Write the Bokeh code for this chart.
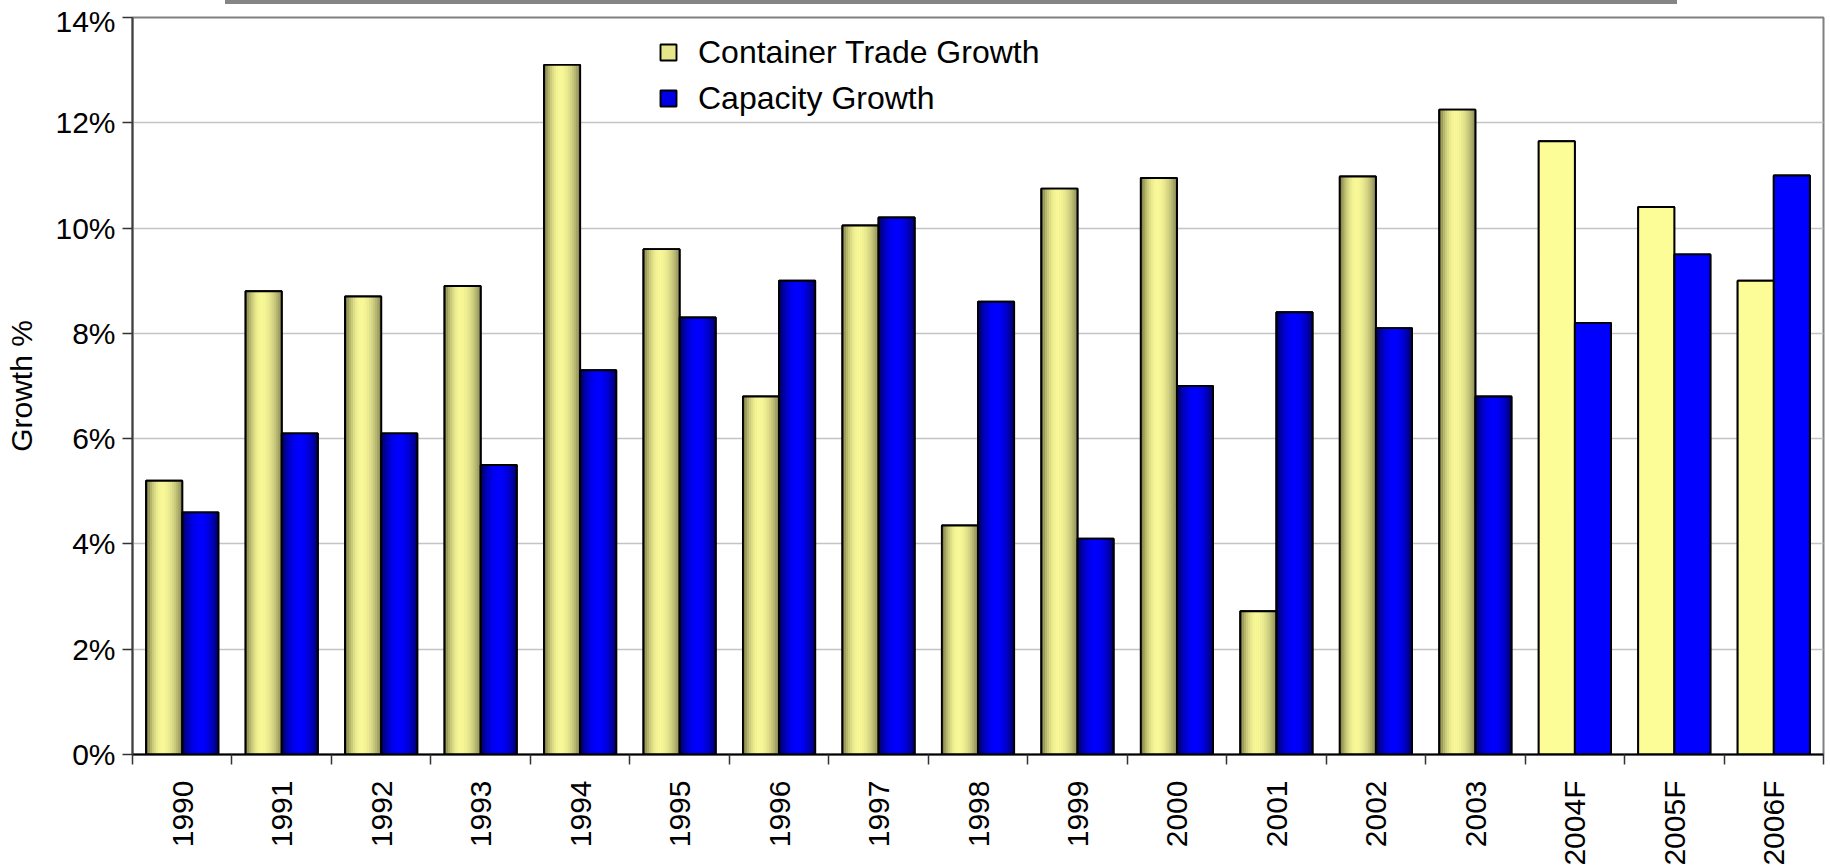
import math
import numpy as np
from bokeh.plotting import figure
from bokeh.models import (ColumnDataSource, Range1d, FixedTicker, Legend, LegendItem, Div, Spacer)
from bokeh.layouts import column, row
from bokeh.embed import file_html
from bokeh.resources import INLINE

# ---------------- data ----------------
years = ["1990", "1991", "1992", "1993", "1994", "1995", "1996", "1997", "1998",
         "1999", "2000", "2001", "2002", "2003", "2004F", "2005F", "2006F"]
trade_growth = [5.2, 8.8, 8.7, 8.9, 13.1, 9.6, 6.8, 10.05, 4.35,
                10.75, 10.95, 2.72, 10.98, 12.25, 11.65, 10.4, 9.0]
capacity_growth = [4.6, 6.1, 6.1, 5.5, 7.3, 8.3, 9.0, 10.2, 8.6,
                   4.1, 7.0, 8.4, 8.1, 6.8, 8.2, 9.5, 11.0]
series_names = ["Container Trade Growth", "Capacity Growth"]
y_ticks = [0, 2, 4, 6, 8, 10, 12, 14]
y_tick_labels = ["0%", "2%", "4%", "6%", "8%", "10%", "12%", "14%"]
y_axis_title = "Growth %"

forecast = [y.endswith("F") for y in years]
idx = np.arange(len(years), dtype=float)

FONT = "Liberation Sans"
BAR_W = 0.363
N_STRIPS = 18
OUTLINE_W = 1.9


def hexc(c):
    return "#%02x%02x%02x" % tuple(int(round(v)) for v in c)


def ramp(dark_l, light, dark_r, peak):
    cols = []
    for k in range(N_STRIPS):
        t = (k + 0.5) / N_STRIPS
        if t < peak:
            u = t / peak
            dark = dark_l
        else:
            u = (1 - t) / (1 - peak)
            dark = dark_r
        s = 1 - (1 - u) ** 2
        cols.append(hexc([d + (l - d) * s for d, l in zip(dark, light)]))
    return cols


yellow_ramp = ramp((0x6c, 0x6c, 0x3c), (0xf8, 0xf8, 0x98), (0x84, 0x84, 0x54), 0.45)
blue_ramp = ramp((0x00, 0x00, 0x50), (0x00, 0x00, 0xff), (0x00, 0x00, 0x60), 0.5)

# gradient strips (historical bars)
sx, stop, scol = [], [], []
for i in range(len(years)):
    if forecast[i]:
        continue
    for off, vals, cols in ((-BAR_W / 2, trade_growth, yellow_ramp),
                            (BAR_W / 2, capacity_growth, blue_ramp)):
        for k in range(N_STRIPS):
            sx.append(idx[i] + off - BAR_W / 2 + (k + 0.5) * BAR_W / N_STRIPS)
            stop.append(vals[i])
            scol.append(cols[k])
strip_src = ColumnDataSource(dict(x=sx, top=stop, color=scol))

fc_idx = [i for i in range(len(years)) if forecast[i]]
fc_trade_src = ColumnDataSource(dict(x=[idx[i] - BAR_W / 2 for i in fc_idx],
                                     top=[trade_growth[i] for i in fc_idx]))
fc_cap_src = ColumnDataSource(dict(x=[idx[i] + BAR_W / 2 for i in fc_idx],
                                   top=[capacity_growth[i] for i in fc_idx]))
all_trade_src = ColumnDataSource(dict(x=idx - BAR_W / 2, top=trade_growth))
all_cap_src = ColumnDataSource(dict(x=idx + BAR_W / 2, top=capacity_growth))

# ---------------- figure ----------------
p = figure(width=1830, height=864, output_backend="svg", toolbar_location=None,
           x_range=Range1d(-0.5, len(years) - 0.5), y_range=Range1d(0, 14),
           min_border_left=132, min_border_right=7, min_border_top=13,
           min_border_bottom=106)
p.background_fill_color = "white"
p.border_fill_color = "white"
p.outline_line_color = "#808080"
p.outline_line_width = 2

# base bars (also used as legend glyphs)
base_t = p.vbar(x="x", top="top", width=BAR_W, bottom=0, source=all_trade_src,
                fill_color="#e6e68a", line_color="black", line_width=OUTLINE_W)
base_c = p.vbar(x="x", top="top", width=BAR_W, bottom=0, source=all_cap_src,
                fill_color="#0000e8", line_color="black", line_width=OUTLINE_W)

p.vbar(x="x", top="top", width=BAR_W / N_STRIPS * 1.12, bottom=0, source=strip_src,
       fill_color="color", line_color=None)
p.vbar(x="x", top="top", width=BAR_W, bottom=0, source=fc_trade_src,
       fill_color="#fdfd98", line_color=None)
p.vbar(x="x", top="top", width=BAR_W, bottom=0, source=fc_cap_src,
       fill_color="#0000ff", line_color=None)
p.vbar(x="x", top="top", width=BAR_W, bottom=0, source=all_trade_src,
       fill_alpha=0, line_color="black", line_width=OUTLINE_W)
p.vbar(x="x", top="top", width=BAR_W, bottom=0, source=all_cap_src,
       fill_alpha=0, line_color="black", line_width=OUTLINE_W)

legend = Legend(items=[LegendItem(label=series_names[0], renderers=[base_t]),
                       LegendItem(label=series_names[1], renderers=[base_c])],
                location=(526, 633), orientation="vertical",
                padding=0, margin=0, spacing=0,
                glyph_width=20, glyph_height=20, label_height=46,
                label_standoff=20, label_text_font=FONT, label_text_font_size="32px",
                label_text_color="black",
                border_line_alpha=0, background_fill_alpha=0)
p.add_layout(legend, "center")

# grid
p.xgrid.grid_line_color = None
p.ygrid.grid_line_color = "#c4c4c4"
p.ygrid.grid_line_width = 1.5
p.ygrid.ticker = FixedTicker(ticks=y_ticks)

# y axis
p.yaxis.ticker = FixedTicker(ticks=y_ticks)
p.yaxis.major_label_overrides = {t: l for t, l in zip(y_ticks, y_tick_labels)}
p.yaxis.major_label_text_font = FONT
p.yaxis.major_label_text_font_size = "30px"
p.yaxis.major_label_text_color = "black"
p.yaxis.major_label_standoff = 7
p.yaxis.major_tick_out = 10
p.yaxis.major_tick_in = 0
p.yaxis.major_tick_line_color = "#333333"
p.yaxis.major_tick_line_width = 1.5
p.yaxis.minor_tick_line_color = None
p.yaxis.axis_line_color = "#404040"
p.yaxis.axis_line_width = 2
p.yaxis.axis_label = y_axis_title
p.yaxis.axis_label_text_font = FONT
p.yaxis.axis_label_text_font_size = "30px"
p.yaxis.axis_label_text_font_style = "normal"
p.yaxis.axis_label_text_color = "black"
p.yaxis.axis_label_standoff = 14

# x axis
p.xaxis.ticker = FixedTicker(ticks=list(idx),
                             minor_ticks=[i - 0.5 for i in range(len(years) + 1)])
p.xaxis.major_label_overrides = {float(i): years[i] for i in range(len(years))}
p.xaxis.major_label_orientation = math.pi / 2
p.xaxis.major_label_text_font = FONT
p.xaxis.major_label_text_font_size = "30px"
p.xaxis.major_label_text_color = "black"
p.xaxis.major_label_standoff = 16
p.xaxis.major_tick_out = 0
p.xaxis.major_tick_in = 0
p.xaxis.minor_tick_out = 10
p.xaxis.minor_tick_in = 0
p.xaxis.minor_tick_line_color = "#333333"
p.xaxis.minor_tick_line_width = 1.5
p.xaxis.axis_line_color = "black"
p.xaxis.axis_line_width = 2

bar_left = Spacer(width=225, height=4)
bar = Div(text="", width=1452, height=4,
          styles={"background-color": "#858585", "margin": "0", "padding": "0"})
top_row = row(bar_left, bar, spacing=0)

layout = column(top_row, p, spacing=0)
open("out.html", "w").write(file_html(layout, INLINE))
